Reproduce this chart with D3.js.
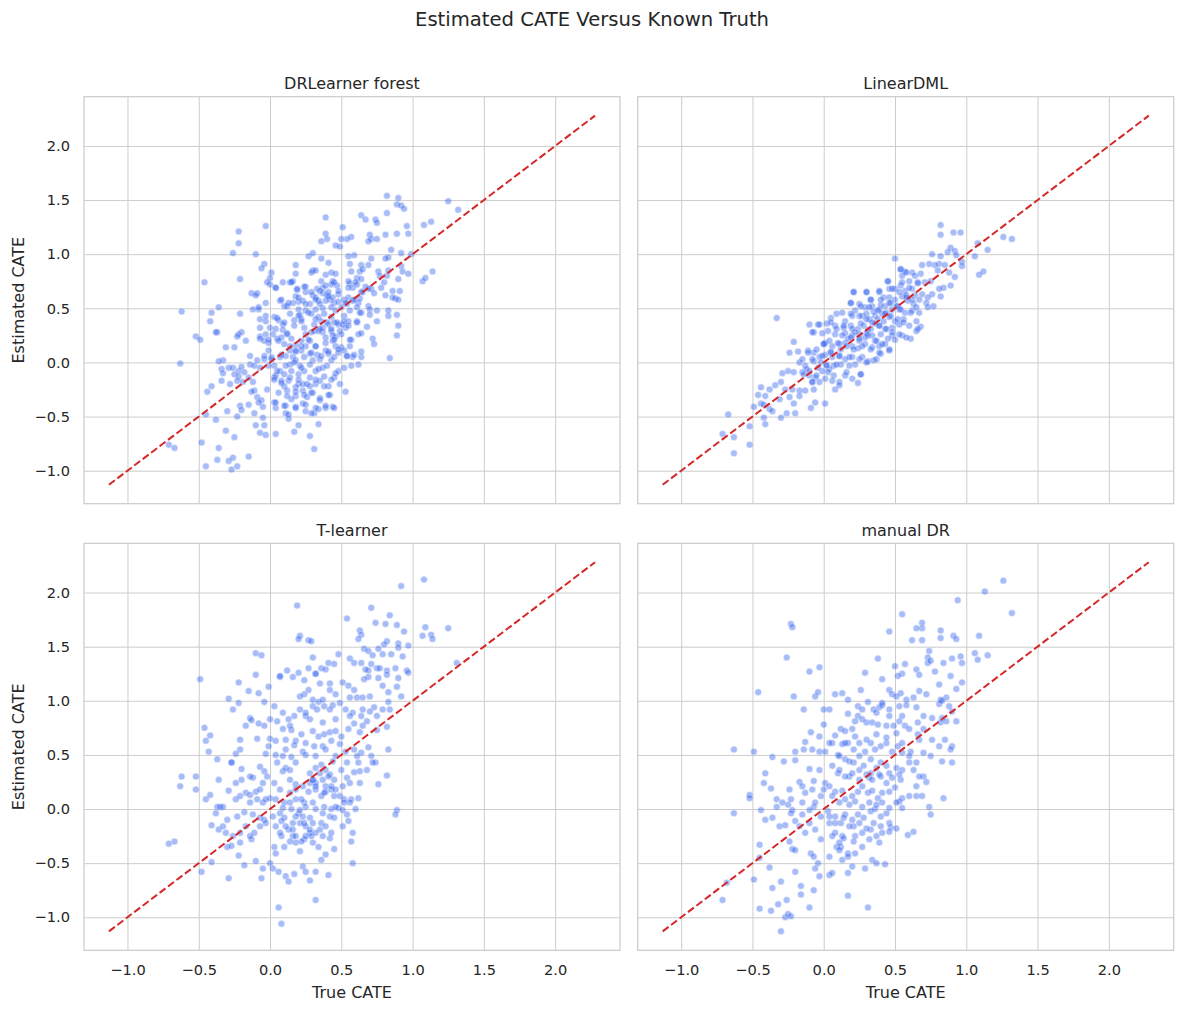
<!DOCTYPE html>
<html>
<head>
<meta charset="utf-8">
<script src="https://cdn.jsdelivr.net/npm/d3@7"></script>
<style>
  body { margin: 0; background: #fff; }
  text { font-family: "DejaVu Sans", sans-serif; fill: #262626; }
</style>
</head>
<body>
<script>
// Data: [true CATE, estimated CATE] pairs
const drlearnerForest = [[0.82,1.54],[0.90,1.52],[0.89,1.46],[0.92,1.45],[0.94,1.42],[1.25,1.49],[0.64,1.36],[0.67,1.32],[0.39,1.34],[0.74,1.32],[0.75,1.29],[0.82,1.38],[1.08,1.27],[1.13,1.30],[0.96,1.26],[-0.03,1.26],[-0.22,1.21],[0.51,1.25],[0.39,1.19],[0.81,1.18],[0.89,1.19],[0.97,1.19],[0.57,1.16],[0.54,1.14],[0.50,1.14],[0.40,1.14],[0.36,1.12],[0.70,1.18],[0.71,1.14],[0.75,1.14],[0.69,1.12],[-0.22,1.10],[0.46,1.08],[0.49,1.07],[-0.26,1.01],[-0.10,1.00],[0.27,0.98],[0.30,1.01],[0.36,0.96],[0.41,0.92],[0.55,0.98],[0.59,0.99],[0.85,1.04],[0.83,0.97],[0.81,0.96],[0.92,1.01],[0.99,1.00],[0.64,0.90],[0.69,0.90],[0.71,0.96],[0.56,0.91],[0.57,0.84],[-0.04,0.91],[-0.06,0.87],[0.01,0.83],[0.18,0.90],[0.18,0.82],[0.30,0.85],[0.29,0.83],[0.32,0.85],[0.39,0.81],[0.43,0.83],[0.46,0.82],[0.44,0.75],[0.43,0.72],[0.47,0.71],[0.92,0.89],[0.93,0.84],[0.97,0.82],[0.83,0.85],[0.82,0.80],[0.63,0.84],[0.65,0.86],[0.61,0.78],[0.64,0.77],[0.76,0.84],[0.77,0.80],[1.07,0.75],[1.09,0.78],[1.14,0.84],[0.90,0.77],[-0.46,0.74],[-0.21,0.77],[0.00,0.78],[0.00,0.72],[0.14,0.74],[0.16,0.75],[0.04,0.69],[0.36,0.75],[0.33,0.68],[0.37,0.69],[0.25,0.70],[0.25,0.65],[0.19,0.67],[0.56,0.73],[0.55,0.75],[0.58,0.69],[0.61,0.72],[0.67,0.70],[0.71,0.68],[0.73,0.64],[0.65,0.65],[0.80,0.74],[0.78,0.69],[0.81,0.62],[0.86,0.66],[0.91,0.66],[0.88,0.59],[0.90,0.58],[0.86,0.60],[-0.13,0.64],[-0.09,0.64],[-0.10,0.62],[-0.03,0.55],[-0.08,0.49],[-0.12,0.49],[0.07,0.57],[0.10,0.52],[0.12,0.52],[0.18,0.61],[0.20,0.56],[0.16,0.55],[0.23,0.57],[0.30,0.62],[0.34,0.57],[0.37,0.64],[0.40,0.62],[0.42,0.58],[0.44,0.60],[0.41,0.65],[0.48,0.63],[0.28,0.54],[0.32,0.49],[0.37,0.50],[0.45,0.55],[0.48,0.56],[0.52,0.58],[0.54,0.54],[0.50,0.51],[0.55,0.60],[0.58,0.57],[0.62,0.55],[0.63,0.59],[0.69,0.52],[0.70,0.49],[0.75,0.48],[-0.36,0.51],[-0.62,0.47],[-0.41,0.46],[-0.42,0.38],[-0.37,0.28],[-0.21,0.45],[-0.20,0.28],[-0.22,0.26],[-0.08,0.51],[-0.07,0.40],[-0.03,0.38],[0.03,0.42],[0.06,0.39],[0.09,0.35],[0.09,0.30],[0.14,0.45],[0.17,0.39],[0.20,0.49],[0.21,0.44],[0.22,0.40],[0.25,0.48],[0.29,0.45],[0.34,0.42],[0.36,0.38],[0.38,0.45],[0.43,0.42],[0.45,0.37],[0.48,0.35],[0.52,0.43],[0.55,0.38],[0.53,0.32],[0.61,0.38],[0.64,0.46],[0.70,0.44],[0.75,0.38],[0.83,0.43],[0.83,0.48],[0.89,0.44],[0.90,0.34],[0.89,0.25],[0.68,0.33],[0.72,0.22],[0.73,0.17],[-0.52,0.24],[-0.49,0.21],[-0.38,0.28],[-0.31,0.14],[-0.33,0.02],[-0.25,0.14],[-0.23,0.24],[-0.17,0.20],[-0.07,0.32],[-0.07,0.24],[-0.07,0.22],[-0.01,0.18],[0.02,0.26],[0.05,0.22],[0.12,0.27],[0.15,0.22],[0.18,0.16],[0.22,0.20],[0.25,0.15],[0.29,0.28],[0.31,0.29],[0.32,0.15],[0.37,0.28],[0.39,0.23],[0.43,0.29],[0.44,0.20],[0.46,0.24],[0.50,0.14],[0.46,0.15],[0.57,0.21],[0.62,0.26],[0.56,0.15],[0.58,0.05],[0.64,0.05],[-0.63,-0.01],[-0.36,0.01],[-0.34,-0.06],[-0.29,-0.05],[-0.26,-0.05],[-0.22,-0.08],[-0.20,-0.04],[-0.14,0.06],[-0.14,-0.02],[-0.33,-0.10],[-0.25,-0.11],[-0.22,-0.13],[-0.18,-0.09],[-0.11,-0.03],[-0.09,0.02],[-0.07,-0.05],[-0.04,0.03],[-0.01,0.11],[0.01,0.05],[0.03,-0.03],[0.07,0.05],[0.11,0.06],[0.14,-0.02],[0.16,0.05],[0.18,0.02],[0.21,-0.03],[0.24,0.05],[0.28,0.08],[0.30,0.02],[0.33,0.07],[0.35,0.03],[0.39,0.11],[0.41,0.08],[0.43,0.02],[0.45,0.05],[0.48,0.09],[0.52,0.11],[0.54,0.06],[0.57,-0.03],[0.62,-0.02],[0.84,0.04],[-0.41,-0.22],[-0.44,-0.27],[-0.45,-0.48],[-0.38,-0.53],[-0.34,-0.17],[-0.28,-0.20],[-0.23,-0.17],[-0.19,-0.18],[-0.15,-0.14],[-0.12,-0.18],[-0.11,-0.26],[-0.13,-0.27],[-0.09,-0.32],[-0.06,-0.35],[-0.02,-0.25],[0.03,-0.14],[0.04,-0.12],[0.08,-0.17],[0.10,-0.22],[0.12,-0.26],[0.13,-0.17],[0.18,-0.31],[0.20,-0.20],[0.23,-0.26],[0.26,-0.32],[0.30,-0.28],[0.32,-0.20],[0.35,-0.17],[0.38,-0.13],[0.41,-0.22],[0.42,-0.30],[0.45,-0.14],[0.48,-0.08],[0.53,-0.27],[-0.21,-0.40],[-0.20,-0.44],[-0.15,-0.39],[-0.11,-0.47],[-0.08,-0.37],[-0.05,-0.41],[-0.05,-0.51],[0.03,-0.37],[0.04,-0.42],[0.11,-0.40],[0.11,-0.47],[0.18,-0.41],[0.23,-0.38],[0.25,-0.45],[0.31,-0.47],[0.34,-0.43],[0.35,-0.35],[0.39,-0.42],[0.44,-0.41],[-0.30,-0.45],[-0.23,-0.50],[-0.31,-0.63],[-0.25,-0.69],[-0.10,-0.58],[-0.07,-0.65],[-0.04,-0.58],[-0.03,-0.67],[0.04,-0.66],[0.13,-0.52],[0.17,-0.64],[0.20,-0.58],[0.34,-0.57],[0.28,-0.68],[0.31,-0.80],[-0.71,-0.76],[-0.67,-0.79],[-0.48,-0.74],[-0.36,-0.79],[-0.37,-0.90],[-0.29,-0.91],[-0.26,-0.88],[-0.23,-0.96],[-0.27,-0.99],[-0.45,-0.96],[-0.15,-0.87],[1.32,1.41],[0.32,0.60],[0.35,0.54],[0.39,0.57],[0.43,0.51],[0.46,0.48],[0.31,0.35],[0.34,0.29],[0.37,0.32],[0.41,0.35],[0.44,0.25],[0.24,0.32],[0.25,0.26],[0.28,0.20],[0.22,0.11],[0.08,0.23],[0.10,0.17],[0.14,0.11],[0.18,0.11],[0.07,-0.08],[0.10,-0.11],[0.15,-0.08],[0.20,-0.11],[0.24,-0.08],[0.28,-0.14],[0.32,-0.08],[0.37,-0.05],[0.18,-0.23],[0.23,-0.20],[0.28,-0.22],[0.15,-0.34],[-0.03,0.26],[0.00,0.32],[-0.04,0.20],[0.56,0.48],[0.61,0.51],[0.51,0.35],[0.49,0.29],
  [-0.02,0.74],[0.04,0.69],[0.09,0.74],[0.15,0.74],[0.19,0.68],[0.24,0.70],[0.29,0.65],[0.35,0.66],[0.41,0.61],[0.45,0.74],[0.48,0.66],[0.55,0.69],[0.60,0.74],[0.64,0.65],[0.69,0.68],[0.39,0.71],[0.20,0.60],[0.13,0.55],[0.08,0.58],[0.25,0.54],[0.32,0.58],[0.53,0.55],[0.59,0.58],[0.63,0.46],[-0.03,0.43],[0.05,0.41],[0.10,0.37],[0.04,0.31],[-0.01,0.21],[0.06,0.20],[0.12,0.26],[0.17,0.34],[0.20,0.43],[0.22,0.38],[0.27,0.46],[0.32,0.40],[0.35,0.31],[0.40,0.37],[0.43,0.31],[0.47,0.37],[0.52,0.38],[0.55,0.34],[0.61,0.37],[0.64,0.27],[0.56,0.21],[0.50,0.26],[0.45,0.21],[0.39,0.18],[0.32,0.15],[0.27,0.21],[0.22,0.15],[0.18,0.10],[0.14,0.15],[0.29,0.09],[0.36,0.06],[0.41,0.10],[0.48,0.12],[0.54,0.06],[0.59,0.07],[0.64,0.10],[-0.04,0.06],[0.01,0.03],[0.08,0.07],[-0.01,-0.03],[0.05,-0.08],[0.11,-0.03],[0.17,0.00],[0.22,-0.05],[0.28,-0.02],[0.34,-0.06],[0.40,-0.03],[0.46,-0.10],[0.52,-0.05],[0.03,-0.16],[0.08,-0.19],[0.14,-0.14],[0.20,-0.16],[0.26,-0.20],[0.32,-0.16],[0.38,-0.22],[0.43,-0.16],[0.49,-0.20],[0.06,-0.28],[0.12,-0.31],[0.18,-0.27],[0.24,-0.30],[0.29,-0.28],[0.35,-0.33],[0.41,-0.30],[0.04,-0.37],[0.10,-0.40],[0.18,-0.42],[0.25,-0.39],[0.32,-0.42],[0.39,-0.40],[0.45,-0.42],[0.13,-0.48],[0.29,-0.47]];

const linearDML = [[0.82,1.27],[0.82,1.18],[0.91,1.20],[0.96,1.20],[1.26,1.16],[1.32,1.14],[1.08,1.10],[1.15,1.04],[1.06,0.98],[1.12,0.84],[1.09,0.81],[0.89,1.06],[0.92,1.03],[0.93,0.99],[0.97,0.93],[0.97,0.89],[0.82,0.98],[0.87,1.02],[0.76,1.00],[0.81,0.91],[0.85,0.90],[0.78,0.90],[0.50,0.96],[0.69,0.90],[0.74,0.91],[0.80,0.85],[0.88,0.83],[0.92,0.79],[0.89,0.71],[0.84,0.69],[0.81,0.68],[0.82,0.61],[0.76,0.63],[0.73,0.60],[0.54,0.86],[0.57,0.84],[0.62,0.83],[0.68,0.82],[0.55,0.80],[0.60,0.75],[0.66,0.73],[0.71,0.74],[0.75,0.75],[0.45,0.75],[0.46,0.68],[0.50,0.68],[0.54,0.71],[0.57,0.66],[0.62,0.68],[0.64,0.62],[0.69,0.63],[0.72,0.55],[0.77,0.52],[0.73,0.51],[0.30,0.65],[0.21,0.65],[0.33,0.58],[0.39,0.65],[0.42,0.60],[0.46,0.60],[0.50,0.58],[0.55,0.61],[0.59,0.57],[0.63,0.54],[0.67,0.58],[0.19,0.55],[0.25,0.54],[0.29,0.51],[0.34,0.52],[0.39,0.49],[0.43,0.52],[0.48,0.49],[0.53,0.49],[0.57,0.46],[0.62,0.48],[0.67,0.46],[0.56,0.40],[0.60,0.34],[-0.33,0.41],[0.05,0.41],[0.09,0.45],[0.02,0.36],[0.15,0.38],[0.20,0.43],[0.22,0.48],[0.27,0.43],[0.32,0.40],[0.36,0.43],[0.41,0.45],[0.46,0.42],[0.50,0.38],[0.53,0.35],[-0.10,0.35],[-0.04,0.35],[0.08,0.34],[0.14,0.32],[0.19,0.34],[0.24,0.31],[0.28,0.34],[0.33,0.31],[0.39,0.34],[0.43,0.31],[0.48,0.32],[0.61,0.22],[0.68,0.33],[0.65,0.29],[0.55,0.25],[0.48,0.25],[-0.07,0.28],[-0.01,0.27],[0.08,0.26],[0.15,0.27],[0.20,0.25],[0.25,0.26],[0.29,0.23],[0.34,0.25],[0.40,0.26],[0.45,0.22],[0.50,0.21],[-0.21,0.19],[-0.24,0.09],[-0.18,0.10],[-0.11,0.11],[-0.07,0.09],[0.00,0.17],[0.01,0.18],[0.06,0.15],[0.11,0.17],[0.15,0.18],[0.20,0.15],[0.24,0.13],[0.29,0.17],[0.34,0.14],[0.39,0.15],[0.43,0.17],[0.46,0.11],[0.40,0.08],[0.35,0.02],[0.31,0.01],[0.27,0.05],[-0.17,0.00],[-0.13,-0.03],[-0.07,0.01],[-0.03,0.05],[0.01,0.07],[0.06,0.05],[0.11,0.06],[0.15,0.03],[0.20,0.05],[0.22,-0.02],[0.18,-0.03],[0.12,-0.02],[0.07,-0.03],[0.04,-0.06],[-0.01,-0.08],[-0.29,-0.10],[-0.25,-0.08],[-0.21,-0.09],[-0.15,-0.09],[-0.10,-0.12],[-0.06,-0.14],[-0.08,-0.18],[-0.03,-0.18],[0.01,-0.15],[0.07,-0.12],[0.11,-0.18],[0.15,-0.12],[0.20,-0.15],[0.24,-0.19],[0.26,-0.11],[-0.44,-0.23],[-0.38,-0.25],[-0.34,-0.21],[-0.30,-0.18],[-0.27,-0.25],[-0.22,-0.25],[-0.17,-0.26],[-0.13,-0.26],[-0.07,-0.25],[0.08,-0.25],[0.11,-0.21],[-0.46,-0.30],[-0.41,-0.31],[-0.31,-0.34],[-0.24,-0.32],[-0.21,-0.38],[-0.17,-0.31],[-0.06,-0.37],[-0.09,-0.42],[0.01,-0.38],[-0.49,-0.41],[-0.44,-0.38],[-0.42,-0.39],[-0.38,-0.43],[-0.36,-0.45],[-0.42,-0.51],[-0.30,-0.51],[-0.26,-0.47],[-0.20,-0.47],[-0.67,-0.48],[-0.52,-0.59],[-0.41,-0.57],[-0.71,-0.66],[-0.63,-0.69],[-0.52,-0.76],[-0.63,-0.84],[0.30,0.45],[0.35,0.47],[0.38,0.40],[0.42,0.38],[0.44,0.46],[0.36,0.36],[0.31,0.30],[0.26,0.36],[0.22,0.28],[0.17,0.22],[0.12,0.12],[0.05,0.10],[0.25,0.20],[0.30,0.27],[0.52,0.52],[0.47,0.55],[0.40,0.53],[0.58,0.62],[0.36,0.20],[-0.02,0.00],[-0.12,-0.06],[0.02,-0.02],
  [0.54,0.86],[0.58,0.83],[0.64,0.80],[0.66,0.74],[0.55,0.74],[0.60,0.69],[0.45,0.75],[0.48,0.68],[0.53,0.65],[0.58,0.60],[0.62,0.58],[0.65,0.51],[0.61,0.46],[0.65,0.38],[0.66,0.31],[0.21,0.65],[0.30,0.65],[0.39,0.66],[0.33,0.58],[0.40,0.58],[0.46,0.55],[0.51,0.52],[0.54,0.49],[0.19,0.55],[0.26,0.52],[0.32,0.51],[0.38,0.48],[0.43,0.45],[0.47,0.43],[0.52,0.40],[0.56,0.37],[0.13,0.46],[0.19,0.45],[0.25,0.43],[0.30,0.40],[0.34,0.37],[0.39,0.34],[0.44,0.31],[0.48,0.28],[0.53,0.26],[0.58,0.23],[0.05,0.37],[-0.03,0.35],[-0.08,0.28],[0.03,0.29],[0.09,0.31],[0.14,0.34],[0.20,0.31],[0.13,0.25],[0.19,0.23],[0.25,0.22],[0.31,0.25],[0.37,0.20],[0.41,0.17],[0.46,0.12],[0.39,0.09],[0.33,0.12],[0.27,0.15],[0.21,0.12],[0.16,0.15],[0.10,0.18],[0.04,0.20],[0.00,0.17],[-0.05,0.12],[-0.11,0.09],[-0.15,0.03],[-0.08,0.03],[-0.01,0.06],[0.05,0.09],[0.11,0.06],[0.18,0.05],[0.25,0.03],[0.30,0.00],[0.37,0.03],[0.09,-0.02],[0.02,-0.03],[-0.04,-0.05],[-0.10,-0.08],[-0.14,-0.11],[-0.05,-0.12],[0.03,-0.09],[0.16,-0.09],[0.26,-0.11],[0.06,-0.17],[-0.08,-0.18]];

const tLearner = [[1.08,2.12],[0.92,2.06],[0.19,1.88],[0.71,1.86],[0.84,1.79],[0.81,1.71],[0.89,1.70],[0.94,1.64],[0.54,1.76],[0.74,1.72],[1.09,1.68],[1.13,1.61],[1.14,1.57],[1.07,1.60],[1.25,1.67],[0.63,1.65],[0.64,1.61],[0.62,1.57],[0.21,1.60],[0.20,1.57],[0.27,1.56],[0.29,1.55],[0.82,1.55],[0.80,1.52],[0.90,1.53],[0.97,1.51],[0.90,1.49],[0.66,1.48],[0.69,1.46],[0.72,1.42],[0.76,1.48],[0.79,1.43],[0.85,1.43],[0.93,1.41],[0.75,1.30],[0.69,1.28],[-0.10,1.44],[-0.06,1.42],[0.30,1.40],[0.48,1.43],[0.41,1.35],[0.45,1.34],[0.36,1.30],[0.32,1.25],[0.39,1.29],[0.56,1.39],[0.59,1.35],[0.64,1.35],[0.67,1.29],[0.71,1.34],[0.77,1.30],[0.82,1.28],[0.88,1.30],[0.96,1.28],[0.97,1.26],[0.90,1.21],[0.82,1.24],[0.76,1.21],[0.69,1.22],[0.66,1.20],[-0.49,1.20],[-0.10,1.24],[0.07,1.22],[0.07,1.23],[0.12,1.28],[0.16,1.22],[0.20,1.26],[0.24,1.19],[0.27,1.30],[0.32,1.25],[-0.22,1.17],[-0.01,1.13],[-0.15,1.09],[-0.08,1.07],[-0.29,1.02],[-0.22,0.98],[-0.26,0.92],[-0.04,0.99],[0.27,1.10],[0.24,1.06],[0.21,1.04],[0.30,1.01],[0.34,0.99],[0.37,1.01],[0.42,1.16],[0.35,1.16],[0.42,1.10],[0.46,1.06],[0.51,1.17],[0.55,1.14],[0.59,1.10],[0.61,1.03],[0.56,1.03],[0.65,1.03],[0.70,1.04],[0.79,1.14],[0.83,1.08],[0.89,1.13],[0.92,1.04],[1.31,1.35],[0.83,0.99],[0.84,0.92],[0.73,0.94],[0.70,0.90],[0.64,0.86],[0.03,0.95],[0.09,0.89],[0.00,0.83],[0.05,0.81],[0.13,0.83],[0.17,0.86],[0.21,0.92],[0.25,0.86],[0.30,0.95],[0.33,0.92],[0.38,0.95],[0.44,0.96],[0.49,0.98],[0.53,0.92],[0.58,0.89],[-0.14,0.84],[-0.08,0.79],[-0.17,0.77],[-0.04,0.77],[-0.13,0.82],[-0.46,0.75],[-0.42,0.68],[-0.45,0.63],[-0.43,0.53],[-0.37,0.46],[-0.27,0.43],[-0.21,0.55],[-0.24,0.51],[-0.21,0.64],[-0.09,0.65],[0.00,0.65],[0.04,0.63],[0.11,0.64],[0.09,0.74],[0.15,0.73],[0.18,0.63],[0.22,0.69],[0.25,0.61],[0.30,0.72],[0.34,0.67],[0.38,0.69],[0.42,0.71],[0.46,0.72],[0.50,0.67],[0.55,0.74],[0.59,0.79],[0.63,0.71],[0.65,0.77],[0.75,0.73],[0.82,0.76],[0.68,0.81],[-0.01,0.58],[-0.03,0.51],[0.04,0.50],[0.11,0.55],[0.15,0.48],[0.17,0.59],[0.23,0.53],[0.31,0.58],[0.37,0.58],[0.43,0.63],[0.49,0.60],[0.53,0.53],[0.59,0.55],[0.64,0.52],[0.69,0.57],[0.71,0.49],[0.74,0.43],[0.72,0.43],[0.83,0.55],[0.63,0.35],[0.62,0.43],[-0.62,0.30],[-0.63,0.21],[-0.52,0.30],[-0.52,0.18],[-0.45,0.09],[-0.42,0.13],[-0.36,0.27],[-0.29,0.17],[-0.37,0.02],[-0.35,0.02],[-0.33,0.02],[-0.27,0.43],[-0.20,0.37],[-0.20,0.27],[-0.12,0.29],[-0.17,0.15],[-0.10,0.16],[-0.07,0.39],[-0.04,0.35],[-0.02,0.30],[-0.05,0.24],[0.05,0.43],[0.09,0.35],[0.11,0.38],[0.03,0.24],[0.07,0.18],[0.14,0.27],[0.18,0.23],[0.23,0.21],[0.28,0.33],[0.30,0.27],[0.32,0.38],[0.36,0.41],[0.39,0.36],[0.44,0.44],[0.42,0.32],[0.45,0.27],[0.50,0.36],[0.54,0.29],[0.59,0.34],[0.63,0.24],[0.76,0.23],[0.82,0.31],[-0.24,0.09],[-0.21,0.12],[-0.14,0.13],[-0.09,0.09],[-0.05,0.06],[0.00,0.10],[0.04,0.09],[0.10,0.06],[0.14,0.15],[0.18,0.09],[0.24,0.06],[0.27,0.16],[0.32,0.18],[0.36,0.12],[0.39,0.16],[0.43,0.18],[0.45,0.12],[0.49,0.12],[0.52,0.09],[0.57,0.09],[0.62,0.10],[0.89,-0.01],[0.88,-0.05],[-0.38,-0.04],[-0.41,-0.15],[-0.36,-0.19],[-0.30,-0.10],[-0.23,-0.07],[-0.18,-0.03],[-0.12,-0.05],[-0.07,-0.08],[-0.04,-0.10],[0.02,-0.07],[0.07,-0.04],[0.10,-0.08],[0.15,0.00],[0.20,-0.04],[0.23,-0.07],[0.28,-0.08],[0.32,0.00],[0.38,0.02],[0.43,0.00],[0.48,0.01],[0.54,-0.05],[0.55,-0.11],[0.60,0.00],[-0.71,-0.32],[-0.67,-0.30],[-0.48,-0.58],[-0.41,-0.49],[-0.30,-0.35],[-0.27,-0.34],[-0.21,-0.31],[-0.22,-0.43],[-0.18,-0.52],[-0.13,-0.28],[-0.10,-0.48],[-0.05,-0.55],[-0.06,-0.64],[-0.29,-0.64],[0.00,-0.50],[0.03,-0.35],[0.04,-0.41],[0.08,-0.25],[0.10,-0.35],[0.13,-0.19],[0.16,-0.25],[0.18,-0.31],[0.21,-0.39],[0.24,-0.28],[0.28,-0.22],[0.30,-0.31],[0.34,-0.35],[0.36,-0.47],[0.39,-0.42],[0.42,-0.27],[0.45,-0.37],[0.51,-0.16],[0.57,-0.30],[0.58,-0.50],[0.58,-0.22],[0.02,-0.55],[0.06,-0.58],[0.11,-0.62],[0.13,-0.67],[0.17,-0.60],[0.23,-0.53],[0.25,-0.58],[0.28,-0.66],[0.32,-0.58],[0.41,-0.61],[0.32,-0.84],[0.06,-0.91],[0.08,-1.06],[0.21,-0.13],[0.25,-0.16],[0.30,-0.13],[0.35,-0.19],[0.16,-0.13],[0.37,-0.25],[0.29,-0.25],[0.32,0.24],[0.37,0.27],[0.39,0.21],[0.28,0.24],
  [0.30,0.27],[0.32,0.21],[0.41,0.30],[0.43,0.21],[0.35,0.33],[0.38,0.15],[0.21,-0.01],[0.18,-0.07],[0.24,-0.13],[0.28,-0.19],[0.32,-0.22],[0.36,-0.13],[0.39,-0.16],[0.43,-0.22],[0.25,-0.25],[0.22,-0.30],[0.18,-0.25],[0.14,-0.30],[0.16,-0.19],[0.11,-0.16],[0.08,-0.11],[0.04,-0.16],[0.07,-0.22],[0.37,-0.04],[0.42,-0.07],[0.45,-0.08],[0.46,0.02],[0.51,-0.01],[0.52,0.06],[0.56,0.06],[0.30,0.06],[0.25,0.02],[0.22,0.09],[0.18,0.18],[0.14,0.06],[0.09,0.01],[-0.03,-0.13],[-0.07,-0.16],[-0.11,-0.22],[-0.14,-0.25],[-0.17,-0.16],[-0.21,-0.22],[-0.26,-0.25],[-0.31,-0.22],[-0.33,-0.16],[-0.24,0.24],[-0.14,0.30],[-0.07,0.18],[-0.03,0.09],[-0.14,0.06],[0.09,0.49],[0.14,0.36],[0.18,0.43],[0.25,0.50],[0.32,0.49],[0.39,0.55],[0.46,0.49],[0.54,0.43],[0.61,0.49],[0.68,0.36],[0.56,0.24],[0.51,0.21],[0.46,0.18],[0.14,0.77],[0.28,0.83],[0.37,0.80],[0.46,0.83],[0.56,0.86],[0.65,0.92],[0.75,0.86],[0.79,0.92],[0.42,0.92],[0.25,0.89]];

const manualDR = [[1.26,2.11],[1.13,2.01],[1.32,1.81],[0.94,1.93],[0.55,1.80],[0.46,1.64],[0.69,1.72],[0.69,1.67],[0.65,1.67],[0.62,1.56],[0.69,1.56],[0.82,1.65],[0.82,1.58],[0.91,1.60],[0.93,1.57],[1.09,1.60],[-0.23,1.71],[-0.22,1.68],[-0.26,1.40],[0.74,1.46],[0.73,1.40],[0.73,1.35],[0.75,1.37],[0.38,1.39],[0.50,1.32],[0.57,1.34],[0.65,1.29],[0.67,1.24],[0.55,1.25],[0.52,1.23],[0.84,1.35],[0.90,1.39],[0.96,1.41],[0.97,1.35],[1.06,1.44],[1.08,1.38],[1.15,1.42],[-0.10,1.27],[-0.03,1.31],[0.29,1.26],[0.41,1.20],[0.78,1.27],[0.81,1.15],[0.89,1.23],[0.93,1.11],[0.97,1.17],[0.86,1.03],[0.82,1.01],[-0.46,1.08],[-0.21,1.04],[-0.06,1.04],[-0.04,1.08],[0.08,1.06],[0.13,1.07],[0.17,1.01],[0.26,1.10],[0.46,1.10],[0.48,1.06],[0.54,1.07],[0.58,1.01],[0.63,1.03],[0.67,1.09],[0.72,1.06],[-0.14,0.92],[0.00,0.92],[0.04,0.92],[0.00,0.78],[0.17,0.88],[0.24,0.95],[0.24,0.86],[0.27,0.92],[0.31,0.99],[0.35,0.92],[0.39,0.94],[0.41,0.96],[0.46,0.92],[0.53,0.95],[0.58,0.96],[0.65,0.94],[0.70,0.86],[0.66,0.80],[0.76,0.84],[0.81,0.97],[0.83,1.00],[0.88,0.95],[0.90,0.90],[0.83,0.84],[0.82,0.80],[0.86,0.81],[0.93,0.81],[-0.09,0.71],[-0.03,0.67],[-0.13,0.62],[0.08,0.68],[0.12,0.74],[0.15,0.72],[0.20,0.74],[0.22,0.81],[0.30,0.80],[0.34,0.80],[0.38,0.78],[0.44,0.77],[0.49,0.77],[0.53,0.81],[0.57,0.77],[0.60,0.74],[0.66,0.69],[0.70,0.74],[0.76,0.64],[0.81,0.58],[0.85,0.64],[0.90,0.58],[0.89,0.55],[0.83,0.44],[0.90,0.43],[0.84,0.10],[0.74,0.02],[0.75,-0.05],[-0.63,0.55],[-0.49,0.53],[-0.36,0.48],[-0.28,0.44],[-0.20,0.53],[-0.20,0.45],[-0.14,0.55],[-0.08,0.55],[-0.03,0.53],[0.01,0.53],[0.06,0.61],[0.10,0.50],[0.04,0.61],[0.13,0.60],[0.17,0.61],[0.21,0.55],[0.25,0.61],[0.29,0.53],[0.33,0.61],[0.36,0.55],[0.40,0.58],[0.44,0.61],[0.48,0.53],[0.52,0.58],[0.55,0.52],[0.61,0.53],[0.67,0.64],[0.70,0.52],[0.75,0.49],[-0.41,0.33],[-0.42,0.24],[-0.37,0.19],[-0.52,0.13],[-0.52,0.10],[-0.63,-0.04],[-0.44,-0.01],[-0.41,-0.10],[-0.33,0.02],[-0.33,0.09],[-0.25,0.04],[-0.23,0.09],[-0.22,-0.01],[-0.17,0.25],[-0.13,0.15],[-0.10,0.37],[-0.07,0.26],[-0.03,0.36],[0.01,0.24],[0.00,0.18],[0.06,0.40],[0.10,0.33],[0.15,0.46],[0.21,0.43],[0.25,0.36],[0.28,0.40],[0.33,0.33],[0.32,0.29],[0.37,0.38],[0.40,0.30],[0.44,0.40],[0.46,0.33],[0.51,0.38],[0.55,0.36],[0.60,0.43],[0.63,0.36],[0.70,0.30],[0.72,0.25],[0.54,0.27],[0.04,0.21],[0.08,0.16],[0.13,0.17],[0.15,0.09],[0.20,0.12],[0.24,0.16],[0.27,0.21],[0.31,0.15],[0.34,0.17],[0.38,0.10],[0.41,0.15],[0.46,0.16],[0.50,0.20],[0.55,0.10],[0.60,0.12],[0.65,0.12],[0.53,0.07],[-0.36,-0.08],[-0.31,-0.16],[-0.27,-0.15],[-0.23,-0.04],[-0.20,-0.11],[-0.15,-0.05],[-0.10,-0.13],[-0.07,0.02],[-0.02,-0.07],[0.03,-0.02],[0.08,-0.07],[0.12,-0.13],[0.15,-0.05],[0.20,-0.10],[0.24,-0.05],[0.28,-0.08],[0.33,-0.02],[0.36,0.00],[0.40,-0.07],[0.44,-0.04],[0.47,-0.17],[0.41,-0.22],[0.46,-0.21],[0.59,-0.24],[0.63,-0.21],[-0.45,-0.33],[-0.45,-0.45],[-0.38,-0.54],[-0.49,-0.65],[-0.68,-0.68],[-0.71,-0.84],[-0.45,-0.92],[-0.37,-0.94],[-0.32,-0.88],[-0.27,-1.00],[-0.25,-0.97],[-0.23,-0.99],[-0.30,-1.13],[-0.24,-0.30],[-0.22,-0.37],[-0.20,-0.38],[-0.09,-0.41],[-0.07,-0.44],[-0.04,-0.50],[-0.06,-0.55],[-0.03,-0.62],[0.04,-0.61],[0.06,-0.59],[0.09,-0.35],[0.12,-0.35],[0.17,-0.41],[0.17,-0.44],[0.13,-0.47],[0.20,-0.53],[0.17,-0.59],[0.17,-0.80],[0.29,-0.55],[0.34,-0.47],[0.43,-0.51],[0.31,-0.91],[-0.20,-0.58],[-0.16,-0.71],[-0.16,-0.79],[-0.36,-0.73],[-0.26,-0.84],[-0.30,-0.67],[-0.10,-0.91],[-0.07,-0.75],[0.04,-0.13],[0.08,-0.22],[0.13,-0.25],[0.22,-0.25],[0.27,-0.22],[0.33,-0.19],[0.37,-0.25],[0.11,-0.31],[0.27,-0.35],[0.21,-0.16],[0.37,-0.50],[0.25,0.49],[0.33,0.46],[0.40,0.43],[0.18,0.30],
  [0.11,0.36],[0.15,0.30],[0.20,0.33],[0.25,0.27],[0.30,0.32],[0.34,0.27],[0.39,0.32],[0.44,0.24],[0.48,0.29],[0.53,0.32],[0.06,0.12],[0.11,0.06],[0.18,0.04],[0.22,0.07],[0.27,0.02],[0.32,0.06],[0.37,0.04],[0.41,0.06],[0.46,0.01],[0.51,0.06],[0.55,0.01],[0.04,-0.07],[0.08,-0.13],[0.14,-0.08],[0.18,-0.16],[0.25,-0.13],[0.30,-0.18],[0.35,-0.13],[0.40,-0.16],[0.46,-0.13],[0.51,-0.18],[0.06,-0.25],[0.14,-0.27],[0.21,-0.30],[0.32,-0.28],[0.39,-0.31],[0.11,-0.38],[0.22,-0.41],[0.04,-0.44],[-0.15,0.06],[-0.10,-0.01],[-0.06,0.06],[-0.02,0.12],[-0.08,0.18],[-0.15,0.21],[-0.24,0.18],[-0.29,0.06],[-0.17,-0.16],[-0.13,-0.22],[-0.06,-0.19],[-0.02,-0.28],[0.11,0.49],[0.18,0.44],[0.15,0.61],[0.22,0.67],[0.30,0.64],[0.37,0.69],[0.44,0.66],[0.51,0.70],[0.55,0.61],[0.60,0.49],[0.65,0.43],[0.67,0.30],[0.65,0.21],[0.69,0.12],[0.27,0.83],[0.37,0.89],[0.46,0.86],[0.55,0.86],[0.41,0.98],[0.51,1.04]];

const modelNames = ["DRLearner forest", "LinearDML", "T-learner", "manual DR"];
const tickValues = [-1.0, -0.5, 0.0, 0.5, 1.0, 1.5, 2.0];
const axisDomain = [-1.305, 2.455];
const diagonal = [-1.13, 2.28];   // ends of the y = x reference line

const panelData = [drlearnerForest, linearDML, tLearner, manualDR];

// Layout
const W = 1183, H = 1012;
const pw = 536, ph = 407;
const lefts = [84, 637.7], tops = [96.7, 543.3];

const svg = d3.select("body").append("svg")
    .attr("width", W)
    .attr("height", H);

svg.append("text")
    .attr("x", 592)
    .attr("y", 25.5)
    .attr("text-anchor", "middle")
    .style("font-size", "19.6px")
    .text("Estimated CATE Versus Known Truth");

const x = d3.scaleLinear().domain(axisDomain).range([0, pw]);
const y = d3.scaleLinear().domain(axisDomain).range([ph, 0]);
const fmt = d3.format(".1f");

modelNames.forEach(function(name, i) {
  const col = i % 2, row = Math.floor(i / 2);
  const g = svg.append("g")
      .attr("transform", "translate(" + lefts[col] + "," + tops[row] + ")");

  // grid
  g.append("g")
      .attr("transform", "translate(0," + ph + ")")
      .call(d3.axisBottom(x).tickValues(tickValues).tickSize(-ph).tickFormat(""))
      .call(a => a.select(".domain").remove())
      .selectAll("line").attr("stroke", "#cccccc").attr("stroke-width", 1);
  g.append("g")
      .call(d3.axisLeft(y).tickValues(tickValues).tickSize(-pw).tickFormat(""))
      .call(a => a.select(".domain").remove())
      .selectAll("line").attr("stroke", "#cccccc").attr("stroke-width", 1);

  // points
  g.append("g").selectAll("circle")
      .data(panelData[i])
      .enter()
      .append("circle")
        .attr("cx", d => x(d[0]))
        .attr("cy", d => y(d[1]))
        .attr("r", 3.5)
        .attr("fill", "rgb(40,90,240)")
        .attr("stroke", "#ffffff")
        .attr("stroke-width", 0.6)
        .attr("opacity", 0.4);

  // y = x line
  g.append("line")
      .attr("x1", x(diagonal[0])).attr("y1", y(diagonal[0]))
      .attr("x2", x(diagonal[1])).attr("y2", y(diagonal[1]))
      .attr("stroke", "#d62728")
      .attr("stroke-width", 2)
      .attr("stroke-dasharray", "7.4,3.2");

  // frame
  g.append("rect")
      .attr("width", pw).attr("height", ph)
      .attr("fill", "none")
      .attr("stroke", "#cccccc")
      .attr("stroke-width", 1.25);

  // tick labels only on outer panels
  if (row === 1) {
    const ax = g.append("g")
        .attr("transform", "translate(0," + ph + ")")
        .call(d3.axisBottom(x).tickValues(tickValues).tickSize(0).tickPadding(14).tickFormat(fmt));
    ax.select(".domain").remove();
    ax.selectAll("text").style("font-size", "14.6px").attr("fill", "#262626")
        .style("font-family", "DejaVu Sans");
    g.append("text")
        .attr("x", pw / 2).attr("y", ph + 48)
        .attr("text-anchor", "middle")
        .style("font-size", "16px")
        .text("True CATE");
  }
  if (col === 0) {
    const ay = g.append("g")
        .call(d3.axisLeft(y).tickValues(tickValues).tickSize(0).tickPadding(14).tickFormat(fmt));
    ay.select(".domain").remove();
    ay.selectAll("text").style("font-size", "14.6px").attr("fill", "#262626")
        .style("font-family", "DejaVu Sans");
    g.append("text")
        .attr("transform", "translate(" + (24 - lefts[0]) + "," + (ph / 2) + ") rotate(-90)")
        .attr("text-anchor", "middle")
        .style("font-size", "16px")
        .text("Estimated CATE");
  }

  // panel title
  g.append("text")
      .attr("x", pw / 2).attr("y", -7.5)
      .attr("text-anchor", "middle")
      .style("font-size", "16px")
      .text(name);
});
</script>
</body>
</html>
